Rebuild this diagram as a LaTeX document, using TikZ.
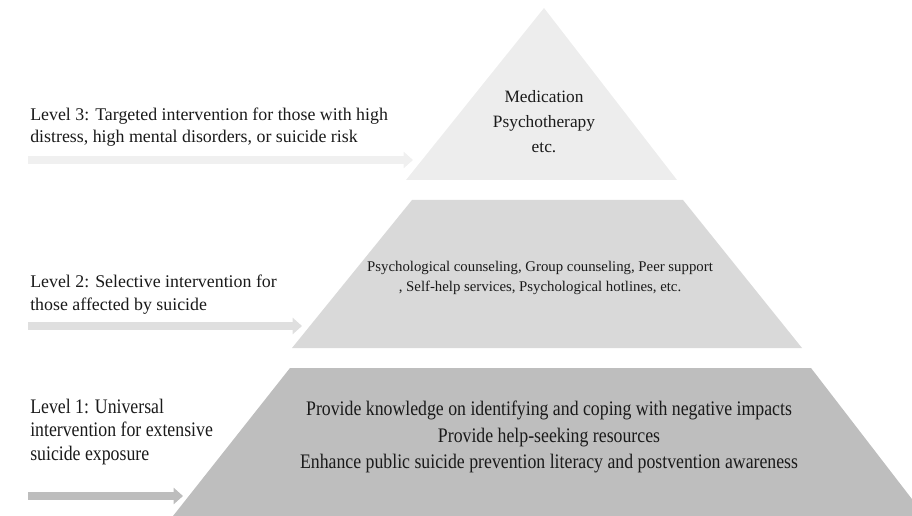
\documentclass[tikz,border=0pt]{standalone}
\usepackage{fontspec}
\setmainfont{Liberation Serif}
\newfontfamily\narrowserif[FakeStretch=0.86]{Liberation Serif}
\usetikzlibrary{arrows.meta}
\definecolor{Ink}{HTML}{1A1A1A}
\definecolor{TopTier}{HTML}{EDEDED}
\definecolor{MidTier}{HTML}{D9D9D9}
\definecolor{BaseTier}{HTML}{BEBEBE}
\definecolor{TopArrow}{HTML}{F0F0F0}
\definecolor{MidArrow}{HTML}{DFDFDF}
\definecolor{BaseArrow}{HTML}{BDBDBD}
\tikzset{
    levelnote/.style={anchor=west, align=left, text=Ink, inner sep=0pt, font=\fontsize{13.4}{16.8}\selectfont},
    tiernote/.style={align=center, text=Ink, inner sep=0pt},
    levelarrow/.style={-{Triangle[length=7pt,width=12pt]}, line width=6.5pt},
}

\begin{document}
\begin{tikzpicture}[x=0.75pt, y=-0.75pt]
    \useasboundingbox (0,0) rectangle (912,516);
    \clip (0,0) rectangle (912,516);

    % Stufe 3 (Spitze)
    \fill[TopTier] (544,8) -- (677,180) -- (406,180) -- cycle;
    \node[tiernote, font=\fontsize{13}{18.75}\selectfont] (med) at (544,122) {Medication\\Psychotherapy\\etc.};
    \node[levelnote] (lvl3) at (30,127) {Level 3: Targeted intervention for those with high\\distress, high mental disorders, or suicide risk};
    \coordinate (from3) at (28,160);
    \coordinate (to3) at (413,160);
    \draw[levelarrow, TopArrow] (from3) -- (to3);

    % Stufe 2
    \fill[MidTier] (412,200) -- (683,200) -- (802,348) -- (292,348) -- cycle;
    \node[tiernote, font=\fontsize{11.1}{15}\selectfont] (couns) at (540,278) {Psychological counseling, Group counseling, Peer support\\, Self-help services, Psychological hotlines, etc.};
    \node[levelnote, font=\fontsize{13.4}{17.2}\selectfont] (lvl2) at (30,294.5) {Level 2: Selective intervention for\\those affected by suicide};
    \coordinate (from2) at (28,326);
    \coordinate (to2) at (302,326);
    \draw[levelarrow, MidArrow] (from2) -- (to2);

    % Stufe 1 (Basis)
    \fill[BaseTier] (290,368) -- (811,368) -- (925,516) -- (173,516) -- cycle;
    \node[tiernote, font=\narrowserif\fontsize{15.5}{20.2}\selectfont] (prov) at (549,437) {Provide knowledge on identifying and coping with negative impacts\\Provide help-seeking resources\\Enhance public suicide prevention literacy and postvention awareness};
    \node[levelnote, font=\narrowserif\fontsize{15.5}{17.8}\selectfont] (lvl1) at (30,432) {Level 1: Universal\\intervention for extensive\\suicide exposure};
    \coordinate (from1) at (28,496);
    \coordinate (to1) at (183,496);
    \draw[levelarrow, BaseArrow] (from1) -- (to1);
\end{tikzpicture}
\end{document}
